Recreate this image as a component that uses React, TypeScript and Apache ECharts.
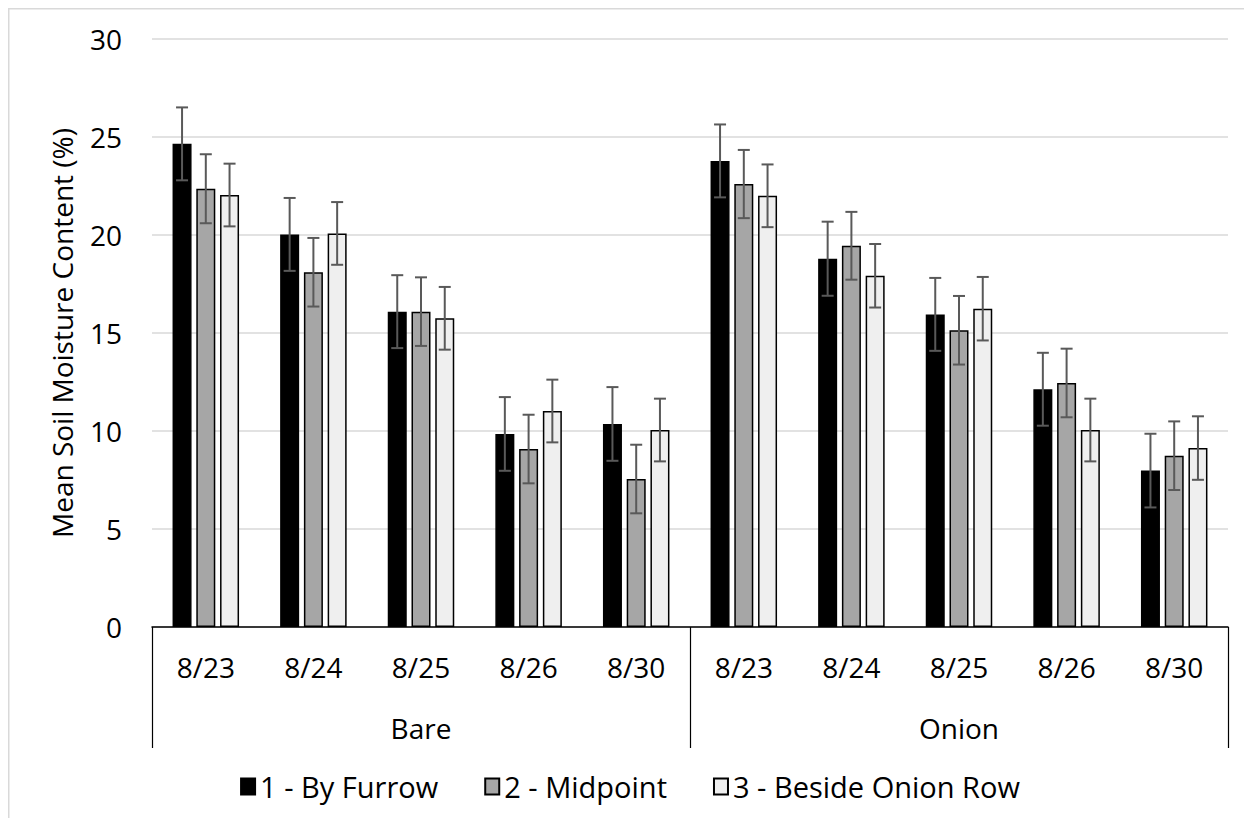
import React, { useEffect, useRef } from "react";
import * as echarts from "echarts";

const dates = ["8/23", "8/24", "8/25", "8/26", "8/30", "8/23", "8/24", "8/25", "8/26", "8/30"];
const groups = ["Bare", "Onion"];
const seriesNames = ["1 - By Furrow", "2 - Midpoint", "3 - Beside Onion Row"];

const byFurrow = [24.65, 20.03, 16.09, 9.85, 10.36, 23.78, 18.79, 15.95, 12.13, 7.98];
const midpoint = [22.36, 18.1, 16.09, 9.08, 7.55, 22.6, 19.45, 15.14, 12.45, 8.74];
const besideRow = [22.04, 20.08, 15.75, 11.02, 10.05, 22.0, 17.92, 16.24, 10.05, 9.13];

const errFurrow = [1.86, 1.86, 1.86, 1.88, 1.88, 1.86, 1.89, 1.86, 1.86, 1.88];
const errMid = [1.76, 1.75, 1.75, 1.75, 1.75, 1.74, 1.73, 1.75, 1.75, 1.75];
const errBeside = [1.6, 1.6, 1.6, 1.6, 1.6, 1.6, 1.62, 1.62, 1.6, 1.62];

const yTicks = { min: 0, max: 30, interval: 5 };

const FONT = "'Open Sans', 'Noto Sans', sans-serif";
const BAR_W = 19;
const BAR_GAP = 0.25;
const fills = ["#000000", "#a6a6a6", "#efefef"];

export default function App() {
  const ref = useRef<HTMLDivElement>(null);

  useEffect(() => {
    if (!ref.current) return;
    const chart = echarts.init(ref.current, undefined, { renderer: "svg" });
    const values = [byFurrow, midpoint, besideRow];
    const errs = [errFurrow, errMid, errBeside];

    const barSeries = values.map((vals, i) => ({
      name: seriesNames[i],
      type: "bar",
      xAxisIndex: 0,
      data: vals,
      barWidth: BAR_W,
      barGap: BAR_GAP * 100 + "%",
      itemStyle: { color: fills[i], borderColor: "#000", borderWidth: 1.5 },
      z: 2,
    }));

    const errSeries = values.map((vals, i) => ({
      type: "custom",
      xAxisIndex: 0,
      z: 3,
      silent: true,
      encode: { x: 0, y: [1, 2] },
      data: vals.map((v, k) => [k, v - errs[i][k], v + errs[i][k]]),
      renderItem: (params: any, api: any) => {
        const off = (i - 1) * BAR_W * (1 + BAR_GAP);
        const lo = api.coord([api.value(0), api.value(1)]);
        const hi = api.coord([api.value(0), api.value(2)]);
        const x = lo[0] + off;
        const cap = 6;
        const style = { stroke: "#595959", lineWidth: 2 };
        return {
          type: "group",
          children: [
            { type: "line", shape: { x1: x, y1: lo[1], x2: x, y2: hi[1] }, style },
            { type: "line", shape: { x1: x - cap, y1: lo[1], x2: x + cap, y2: lo[1] }, style },
            { type: "line", shape: { x1: x - cap, y1: hi[1], x2: x + cap, y2: hi[1] }, style },
          ],
        };
      },
    }));

    chart.setOption({
      animation: false,
      backgroundColor: "#fff",
      textStyle: { fontFamily: FONT },
      graphic: [
        {
          type: "polyline",
          shape: { points: [[0.75, 820], [0.75, 0.75], [1250, 0.75]] },
          style: { stroke: "#d9d9d9", lineWidth: 1.5, fill: "none" },
          silent: true,
        },
      ],
      grid: { left: 144, right: 24, top: 31, bottom: 191, containLabel: false },
      legend: {
        data: seriesNames,
        bottom: 12,
        left: "center",
        itemWidth: 14,
        itemHeight: 16,
        itemGap: 46,
        icon: "rect",
        textStyle: { fontSize: 29, color: "#000", fontFamily: FONT },
      },
      xAxis: [
        {
          type: "category",
          data: dates,
          position: "bottom",
          axisLine: { show: true, lineStyle: { color: "#000", width: 1.5 } },
          axisTick: { show: false },
          axisLabel: { interval: 0, fontSize: 28, color: "#000", margin: 26, fontFamily: FONT },
        },
        {
          type: "category",
          data: groups,
          position: "bottom",
          offset: 0,
          axisLine: { show: false },
          axisTick: { show: true, length: 121, lineStyle: { color: "#000", width: 1.2 } },
          axisLabel: { fontSize: 28, color: "#000", margin: 87, fontFamily: FONT },
        },
      ],
      yAxis: {
        type: "value",
        min: yTicks.min,
        max: yTicks.max,
        interval: yTicks.interval,
        name: "Mean Soil Moisture Content (%)",
        nameLocation: "middle",
        nameRotate: 90,
        nameGap: 76,
        nameTextStyle: { fontSize: 28, color: "#000", fontFamily: FONT },
        axisLine: { show: false },
        axisTick: { show: false },
        axisLabel: { fontSize: 28, color: "#000", margin: 30, fontFamily: FONT },
        splitLine: { lineStyle: { color: "#d9d9d9", width: 1.5 } },
      },
      series: [...barSeries, ...errSeries],
    });
    return () => chart.dispose();
  }, []);

  return <div ref={ref} style={{ width: 1244, height: 810 }} />;
}
